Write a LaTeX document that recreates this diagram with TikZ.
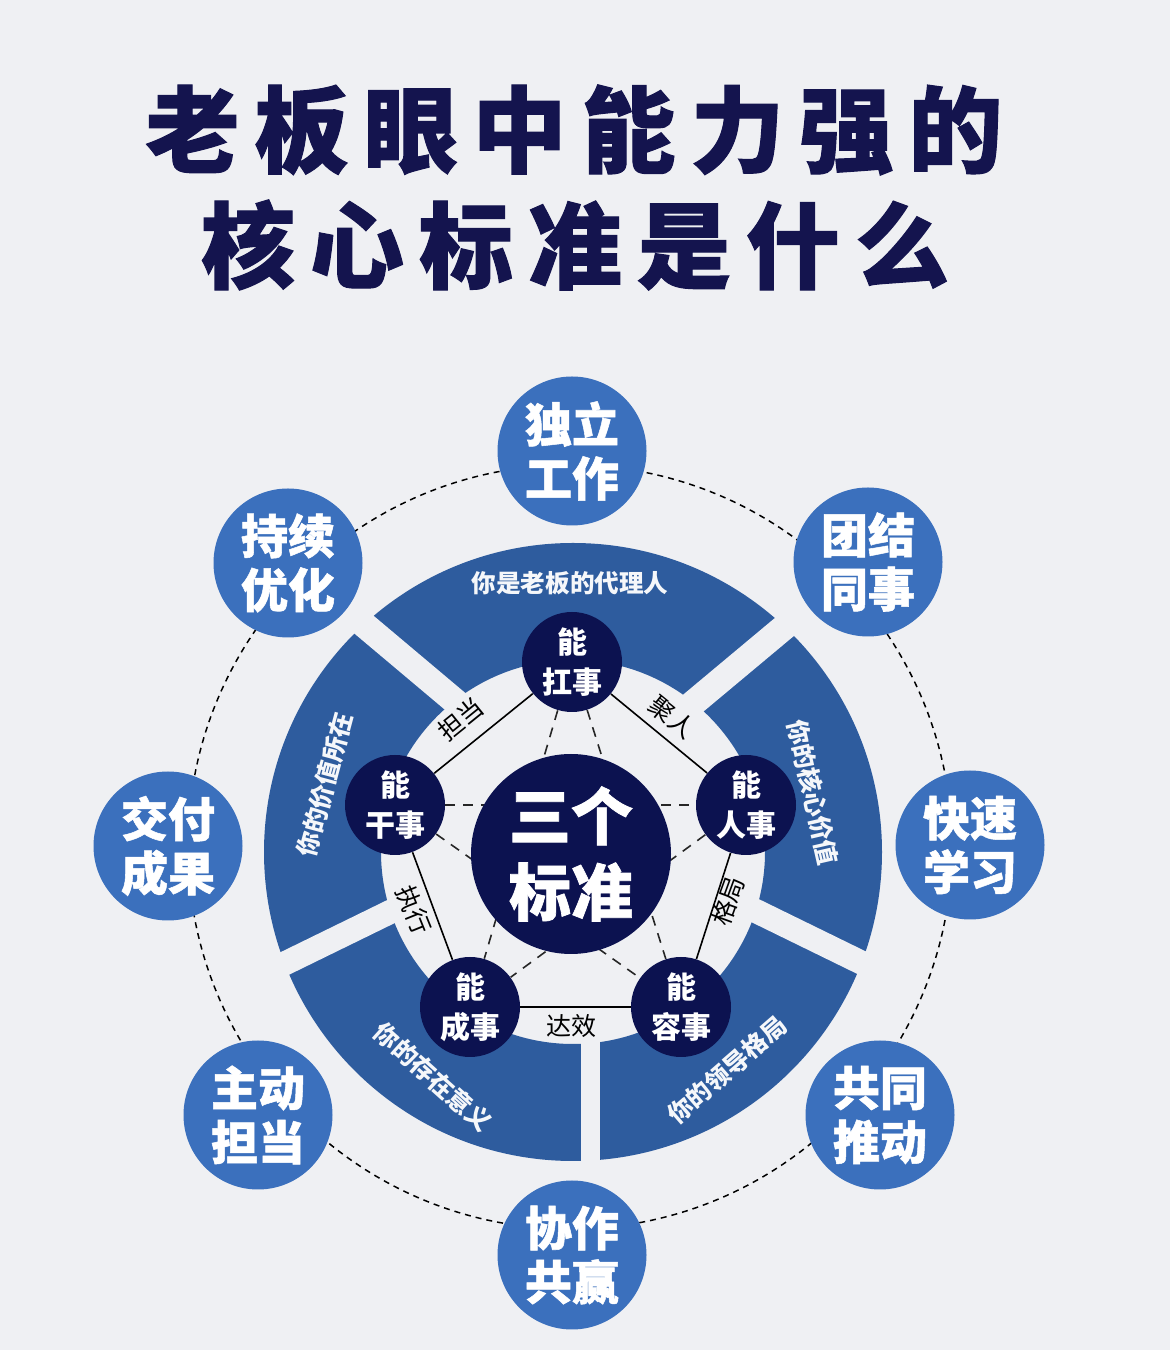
\documentclass[tikz,border=0pt]{standalone}
\usepackage{fontspec}
\setmainfont{Noto Sans CJK SC}
\newfontfamily\heavy{Noto Sans CJK SC}[BoldFeatures={FakeBold=1.1}]
\definecolor{bgc}{HTML}{EFF0F3}
\definecolor{navy}{HTML}{0C1250}
\definecolor{titlec}{HTML}{14144E}
\definecolor{ringc}{HTML}{2E5C9E}
\definecolor{outc}{HTML}{3B70BD}
\pgfdeclarelayer{back}\pgfdeclarelayer{mid}\pgfsetlayers{back,mid,main}
\begin{document}
\begin{tikzpicture}[x=0.5pt,y=0.5pt,
 outer/.style={circle, fill=outc, minimum size=74.5pt, inner sep=0pt, text=white,
   font=\heavy\bfseries\fontsize{23.5}{27}\selectfont, align=center},
 small/.style={circle, fill=navy, minimum size=50pt, inner sep=0pt, text=white,
   font=\bfseries\fontsize{15}{20}\selectfont, align=center},
 core/.style={circle, fill=navy, minimum size=100pt, inner sep=0pt, text=white,
   font=\heavy\bfseries\fontsize{31}{38}\selectfont, align=center},
 ringtxt/.style={text=white!95!ringc, font=\bfseries\fontsize{12.3}{13}\selectfont, inner sep=0pt},
 edgetxt/.style={text=black, font=\fontsize{12.5}{13}\selectfont, inner sep=0pt},
 titletxt/.style={text=titlec, font=\heavy\bfseries\fontsize{47}{50}\selectfont, inner sep=0pt},
 solid link/.style={draw=black, line width=0.8pt},
 star link/.style={draw=black!85, line width=0.8pt, dash pattern=on 5pt off 4pt},
 gapband/.style={draw=bgc, line cap=butt},
 orbit/.style={draw=black, line width=0.75pt, dash pattern=on 3pt off 2.5pt},
]
\begin{pgfonlayer}{back}
\fill[bgc] (0,0) rectangle (1170,1350);
\fill[ringc, even odd rule] (573,498) circle[radius=309] (573,498) circle[radius=192];
\begin{scope}
\clip (573,498) circle[radius=312];
\draw[gapband, line width=13pt] (313.9,767.5) -- (520.5,593.6);
\draw[gapband, line width=13pt] (834.5,764.9) -- (627.5,591.9);
\draw[gapband, line width=12pt] (916.8,360.3) -- (674.3,478.9);
\draw[gapband, line width=12pt] (231.2,360.3) -- (473.7,478.9);
\draw[gapband, line width=9.5pt] (590.5,398) -- (590.5,150);
\end{scope}
\draw[orbit] (570,503) circle[radius=382];
\end{pgfonlayer}
\useasboundingbox (0,0) rectangle (1170,1350);

% title
\node[titletxt] (title1) at (574,1220) {老\kern7.5pt 板\kern7.5pt 眼\kern7.5pt 中\kern7.5pt 能\kern7.5pt 力\kern7.5pt 强\kern7.5pt 的};
\node[titletxt] (title2) at (575,1105) {核\kern7.5pt 心\kern7.5pt 标\kern7.5pt 准\kern7.5pt 是\kern7.5pt 什\kern7.5pt 么};

% outer circles
\node[outer] (o1) at (572,899) {独立\\工作};
\node[outer] (o2) at (868,788) {团结\\同事};
\node[outer] (o3) at (970,505) {快速\\学习};
\node[outer] (o4) at (880,235) {共同\\推动};
\node[outer] (o5) at (572,95) {协作\\共赢};
\node[outer] (o6) at (258,235) {主动\\担当};
\node[outer] (o7) at (168,504) {交付\\成果};
\node[outer] (o8) at (288,787) {持续\\优化};

% ring texts
\node[ringtxt] (t1) at (570,767) {你是老板的代理人};
\node[ringtxt, rotate=75] (t2) at (325,565) {你的价值所在};
\node[ringtxt, rotate=-77] (t3) at (813,558) {你的核心价值};
\node[ringtxt, rotate=-42] (t4) at (433,273) {你的存在意义};
\node[ringtxt, rotate=41] (t5) at (727,280) {你的领导格局};

% centre and pentagon
\node[core] (core) at (571,496) {三个\\标准};
\node[small] (kang) at (572,688) {能\\扛事};
\node[small] (gan) at (395,545) {能\\干事};
\node[small] (ren) at (746,545) {能\\人事};
\node[small] (cheng) at (470,343) {能\\成事};
\node[small] (rong) at (681,343) {能\\容事};

\begin{pgfonlayer}{mid}
\draw[solid link] (gan) -- (kang);
\draw[solid link] (kang) -- (ren);
\draw[solid link] (ren) -- (rong);
\draw[solid link] (rong) -- (cheng);
\draw[solid link] (cheng) -- (gan);
\draw[star link] (kang) -- (cheng);
\draw[star link] (kang) -- (rong);
\draw[star link] (gan) -- (ren);
\draw[star link] (gan) -- (rong);
\draw[star link] (ren) -- (cheng);
\end{pgfonlayer}

% edge labels
\node[edgetxt, rotate=39] (l1) at (461,631) {担当};
\node[edgetxt, rotate=-39] (l2) at (672,633) {聚人};
\node[edgetxt, rotate=70] (l3) at (728,449) {格局};
\node[edgetxt, rotate=-68] (l4) at (414,440) {执行};
\node[edgetxt] (l5) at (571,324) {达效};
\end{tikzpicture}
\end{document}
